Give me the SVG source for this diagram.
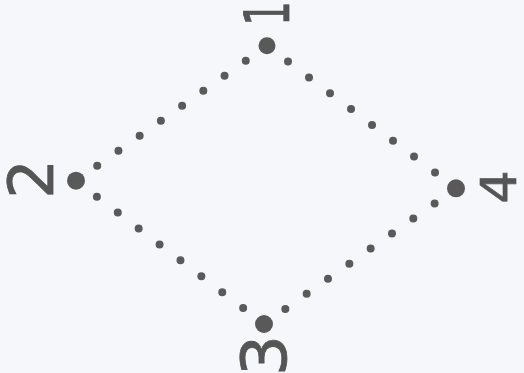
<svg xmlns="http://www.w3.org/2000/svg" width="524" height="373" viewBox="0 0 524 373">
<style>
.bg{fill:#f5f7fa}
.vtx{fill:#595959}
.lbl{font-family:"DejaVu Sans",sans-serif;font-size:62px;fill:#555;stroke:#555;stroke-width:0.8;text-anchor:middle}
.edge{stroke:#5a5a5a;stroke-width:8;stroke-linecap:round;fill:none}
</style>
<rect class="bg" x="0" y="0" width="524" height="373"/>
<g id="connectors">
<line class="edge" x1="267" y1="45.7" x2="76" y2="180.7" stroke-dasharray="0 25.99"/>
<line class="edge" x1="267" y1="45.7" x2="456" y2="188.3" stroke-dasharray="0 26.31"/>
<line class="edge" x1="76" y1="180.7" x2="264" y2="324" stroke-dasharray="0 26.27"/>
<line class="edge" x1="264" y1="324" x2="456" y2="188.3" stroke-dasharray="0 26.12"/>
</g>
<g id="node1">
<circle class="vtx" cx="267" cy="45.7" r="8.5"/>
<text class="lbl" transform="translate(289,13.5) rotate(-90) scale(0.62,1)">1</text>
</g>
<g id="node2">
<circle class="vtx" cx="76" cy="180.7" r="9"/>
<text class="lbl" transform="translate(53,179) rotate(-90)">2</text>
</g>
<g id="node3">
<circle class="vtx" cx="264" cy="324" r="9"/>
<text class="lbl" transform="translate(286,355.5) rotate(-90) scale(1.04,1)">3</text>
</g>
<g id="node4">
<circle class="vtx" cx="456" cy="188.3" r="9"/>
<text class="lbl" transform="translate(516,187) rotate(-90) scale(0.85,0.8)">4</text>
</g>
</svg>
